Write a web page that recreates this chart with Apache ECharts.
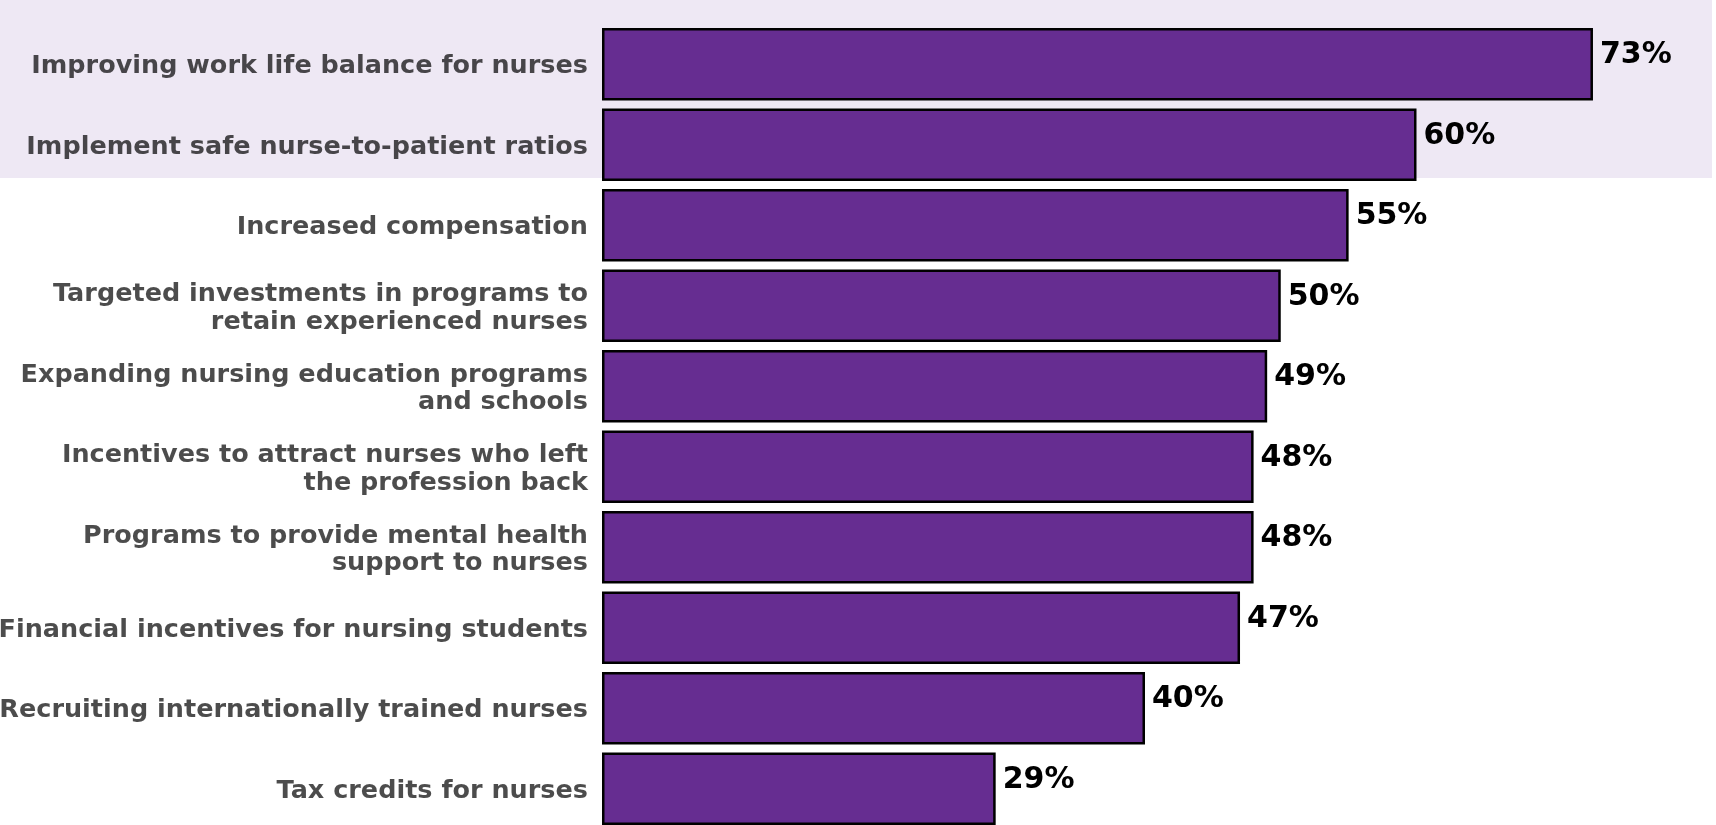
<!DOCTYPE html>
<html>
<head>
<meta charset="utf-8">
<script src="https://cdn.jsdelivr.net/npm/echarts@6/dist/echarts.min.js"></script>
<style>
  html, body { margin: 0; padding: 0; background: #fff; }
  #chart { width: 1716px; height: 825px; }
</style>
</head>
<body>
<div id="chart"></div>
<script>
// 类别（自上而下）
const categories = [
  'Improving work life balance for nurses',
  'Implement safe nurse-to-patient ratios',
  'Increased compensation',
  'Targeted investments in programs to\nretain experienced nurses',
  'Expanding nursing education programs\nand schools',
  'Incentives to attract nurses who left\nthe profession back',
  'Programs to provide mental health\nsupport to nurses',
  'Financial incentives for nursing students',
  'Recruiting internationally trained nurses',
  'Tax credits for nurses'
]
// 百分比
const percents = [73, 60, 55, 50, 49, 48, 48, 47, 40, 29]

const myChart = echarts.init(document.querySelector('#chart'))
const option = {
  backgroundColor: '#fff',
  animation: false,
  textStyle: {
    fontFamily: 'DejaVu Sans'
  },
  // 前两项的高亮底色
  graphic: [
    {
      type: 'rect',
      z: -1,
      silent: true,
      shape: { x: 0, y: 0, width: 1712, height: 178 },
      style: { fill: '#EEE8F4' }
    }
  ],
  grid: {
    left: 602,
    right: 28,
    top: 24,
    bottom: -4,
    outerBoundsMode: 'none'
  },
  xAxis: {
    type: 'value',
    min: 0,
    max: 80,
    show: false
  },
  yAxis: {
    type: 'category',
    inverse: true,
    data: categories,
    axisLine: { show: false },
    axisTick: { show: false },
    splitLine: { show: false },
    axisLabel: {
      margin: 14,
      align: 'right',
      // 每行单独包一层，稍微往下挪一点
      formatter: v => v.split('\n').map(s => '{a|' + s + '}').join('\n'),
      rich: {
        a: {
          color: 'rgba(0,0,0,0.7)',
          fontFamily: 'DejaVu Sans',
          fontSize: 25.5,
          fontWeight: 'bold',
          lineHeight: 27.5,
          padding: [5, 0, 0, 0]
        }
      }
    }
  },
  series: [
    {
      type: 'bar',
      data: percents,
      barCategoryGap: '10%',
      itemStyle: {
        color: '#662D91',
        borderColor: '#000',
        borderWidth: 2.5
      },
      label: {
        show: true,
        position: 'right',
        distance: 7,
        offset: [0, -9],
        formatter: '{c}%',
        color: '#000',
        fontSize: 30,
        fontWeight: 'bold'
      }
    }
  ]
}
myChart.setOption(option)
</script>
</body>
</html>
